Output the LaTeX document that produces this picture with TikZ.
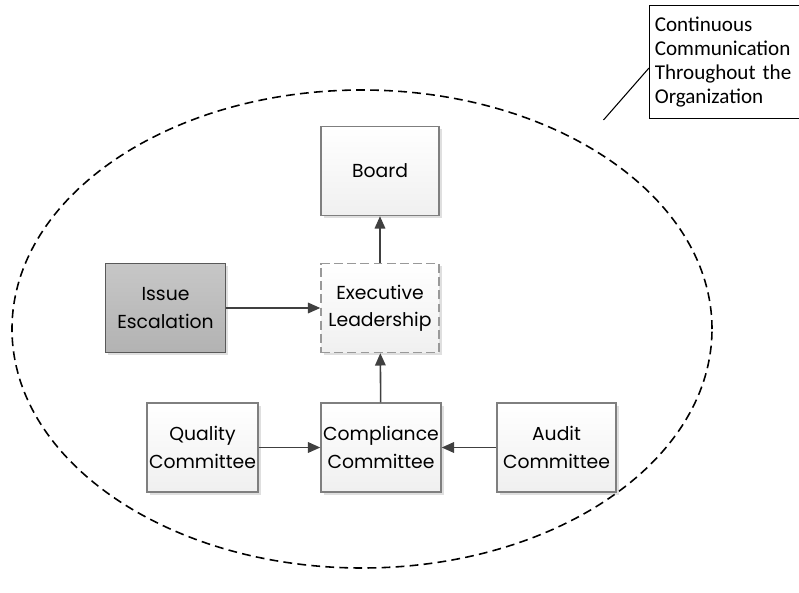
\documentclass[tikz,border=0pt]{standalone}
\usepackage{fontspec}
\setmainfont{Poppins}
\newfontfamily\calloutfont{Carlito}
\usepackage{tikz}
\usetikzlibrary{arrows.meta}
\usetikzlibrary{shadows}

\definecolor{boxline}{HTML}{7F7F7F}
\definecolor{arrowgray}{HTML}{404040}

\tikzset{
	orgbox/.style={draw=boxline, line width=0.8pt, top color=white, bottom color=black!6,
		minimum width=2.36cm, minimum height=1.78cm, align=center, inner sep=1pt,
		font=\fontsize{10.7}{15.5}\selectfont,
		drop shadow={opacity=0.25, shadow xshift=0.05cm, shadow yshift=-0.05cm}},
	flow/.style={draw=arrowgray, line width=0.9pt, -{Triangle[length=7pt, width=6pt]}}
}

\begin{document}
\begin{tikzpicture}
	\useasboundingbox (0,0) rectangle (15.98,-11.86);

	% boundary of the organization
	\draw[dashed, line width=0.9pt, dash pattern=on 5pt off 3pt] (7.24,-6.58) ellipse (7.0cm and 4.78cm);

	% committees and leadership
\node[orgbox] (board) at (7.6,-3.42) {Board};
\node[orgbox, draw=boxline!80, dashed, dash pattern=on 5pt off 2.5pt] (exec) at (7.6,-6.16) {Executive\\Leadership};
\node[orgbox, top color=black!22, bottom color=black!30, draw=black!65, line width=1.1pt, minimum width=2.4cm] (issue) at (3.31,-6.16) {Issue\\Escalation};
\node[orgbox, minimum width=2.22cm] (quality) at (4.05,-8.95) {Quality\\Committee};
\node[orgbox, minimum width=2.4cm] (compliance) at (7.62,-8.95) {Compliance\\Committee};
\node[orgbox, minimum width=2.38cm] (audit) at (11.13,-8.95) {Audit\\Committee};

\draw[flow] (exec) -- (board);
\draw[flow] (issue) -- (exec);
\draw[flow] (compliance) -- (exec);
\draw[flow] (quality) -- (compliance);
\draw[flow] (audit) -- (compliance);

	% callout
\node[draw, line width=0.6pt, align=left, anchor=north west, inner sep=3pt, text width=2.85cm,
	minimum height=2.26cm, font=\calloutfont\fontsize{12}{13.8}\selectfont] (note) at (12.98,-0.1)
	{Continuous\\Communication\\Throughout the\\Organization};
\coordinate (tip) at (12.07,-2.4);
\draw[line width=0.6pt] (note.west |- 0,-1.36) -- (tip);
\end{tikzpicture}
\end{document}
